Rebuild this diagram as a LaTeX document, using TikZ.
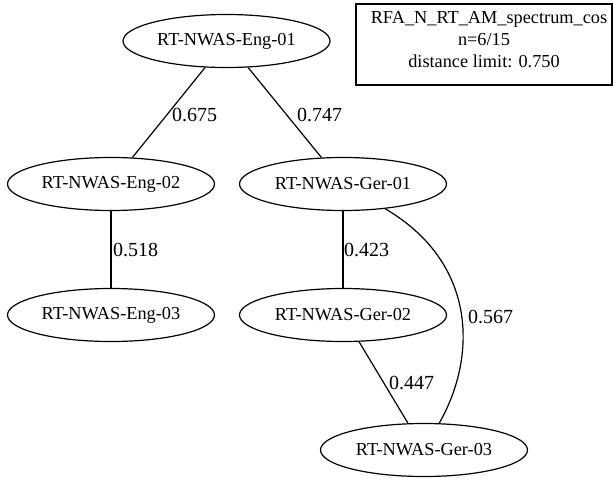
\documentclass[tikz,border=0pt]{standalone}
\usepackage{fontspec}
\setmainfont{Liberation Serif}
\usetikzlibrary{shapes.geometric}
\begin{document}
\begin{tikzpicture}[x=1pt,y=-1pt,
  gnode/.style={draw,ellipse,line width=1.2pt,minimum width=207pt,minimum height=53pt,inner sep=0pt,font=\fontsize{18.3}{20}\selectfont},
  elabel/.style={font=\fontsize{20}{22}\selectfont,inner sep=0pt,anchor=west},
  ltext/.style={font=\fontsize{18.3}{20}\selectfont,inner sep=0pt},
  edge/.style={line width=1.2pt}]
\useasboundingbox (0,0) rectangle (613,480);
\node[gnode] (e1) at (226.5,41) {RT-NWAS-Eng-01};
\node[gnode] (e2) at (111,184) {RT-NWAS-Eng-02};
\node[gnode] (g1) at (343,184) {RT-NWAS-Ger-01};
\node[gnode] (e3) at (111,315) {RT-NWAS-Eng-03};
\node[gnode] (g2) at (343,315) {RT-NWAS-Ger-02};
\node[gnode] (g3) at (424,450) {RT-NWAS-Ger-03};
\node[draw,line width=1.2pt,minimum width=256pt,minimum height=81pt,inner sep=0pt] (leg) at (484,44.5) {};
\node[ltext] (l1) at (489,19) {RFA\_N\_RT\_AM\_spectrum\_cos};
\node[ltext] (l2) at (484,40) {n=6/15};
\node[ltext] (l3) at (484,61) {distance limit: 0.750};
\draw[edge] (e1) -- (e2);
\draw[edge] (e1) -- (g1);
\draw[edge] (e2) -- (e3);
\draw[edge] (g1) -- (g2);
\draw[edge] (g1) .. controls (476,262) and (478,355) .. (g3);
\draw[edge] (g2) -- (g3);
\node[elabel] (a1) at (172,115) {0.675};
\node[elabel] (a2) at (297,115) {0.747};
\node[elabel] (a3) at (113,250) {0.518};
\node[elabel] (a4) at (344,250) {0.423};
\node[elabel] (a5) at (468,317) {0.567};
\node[elabel] (a6) at (389,383) {0.447};
\end{tikzpicture}
\end{document}
